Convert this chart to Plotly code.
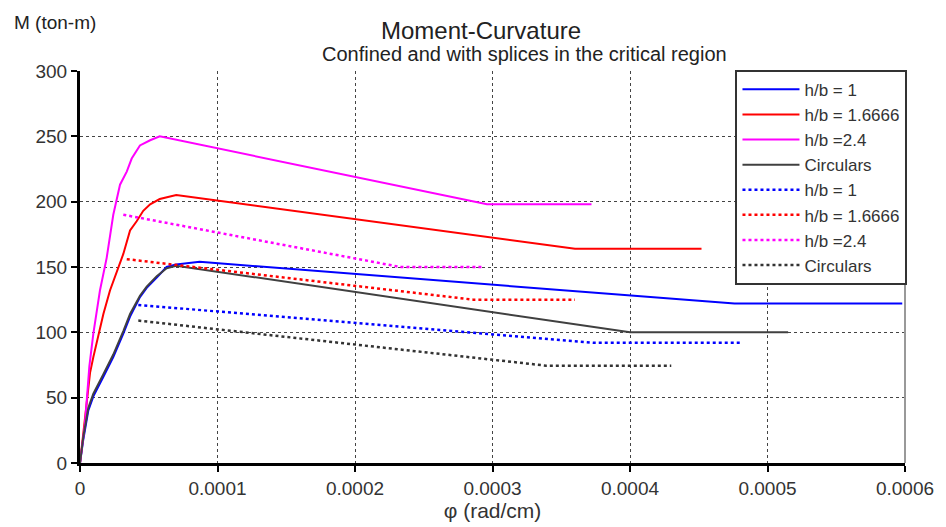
import plotly.graph_objects as go

# ---- data (curvature phi in rad/cm, moment M in ton-m) ----
hb1_x = [0, 2.4e-6, 6.0e-6, 9.7e-6, 1.7e-5, 2.42e-5, 3.15e-5, 3.64e-5, 4.36e-5, 4.85e-5, 5.58e-5, 6.3e-5, 7.0e-5, 8.7e-5, 0.000476, 0.000598]
hb1_y = [0, 18, 40, 51, 66, 81, 99, 112, 127, 134, 142, 150, 152, 154, 122, 122]

hb16_x = [0, 3.6e-6, 7.3e-6, 9.7e-6, 1.7e-5, 2.18e-5, 2.91e-5, 3.15e-5, 3.64e-5, 4.12e-5, 4.6e-5, 5.1e-5, 5.8e-5, 7.0e-5, 0.00036, 0.000452]
hb16_y = [0, 36, 69, 81, 114, 132, 152, 160, 178, 185, 193, 198, 202, 205, 164, 164]

hb24_x = [0, 3.6e-6, 6.8e-6, 9.7e-6, 1.45e-5, 1.94e-5, 2.42e-5, 2.91e-5, 3.4e-5, 3.76e-5, 4.36e-5, 5.1e-5, 5.8e-5, 0.000296, 0.000372]
hb24_y = [0, 30, 74, 99, 132, 157, 190, 213, 223, 233, 243, 247, 250, 198, 198]

circ_x = [0, 2.4e-6, 6.0e-6, 9.7e-6, 1.7e-5, 2.42e-5, 3.15e-5, 3.64e-5, 4.36e-5, 4.85e-5, 5.58e-5, 6.3e-5, 7.0e-5, 0.0004, 0.000515]
circ_y = [0, 20, 42, 53, 68, 83, 101, 114, 128, 135, 143, 149, 151, 100, 100]

hb1_d_x = [4.24e-5, 0.000373, 0.00048]
hb1_d_y = [121, 92, 92]

hb16_d_x = [3.4e-5, 0.000286, 0.00036]
hb16_d_y = [156, 125, 125]

hb24_d_x = [3.15e-5, 0.000233, 0.000294]
hb24_d_y = [190, 150, 150]

circ_d_x = [4.24e-5, 0.000339, 0.00043]
circ_d_y = [109, 74.5, 74.5]

x_ticks = [0, 0.0001, 0.0002, 0.0003, 0.0004, 0.0005, 0.0006]
x_tick_labels = ["0", "0.0001", "0.0002", "0.0003", "0.0004", "0.0005", "0.0006"]
y_ticks = [0, 50, 100, 150, 200, 250, 300]

FONT = "Liberation Sans, Arial, sans-serif"

series = [
    ("h/b = 1", hb1_x, hb1_y, "#0000FF", "solid", 2),
    ("h/b = 1.6666", hb16_x, hb16_y, "#FF0000", "solid", 2),
    ("h/b =2.4", hb24_x, hb24_y, "#FF00FF", "solid", 2),
    ("Circulars", circ_x, circ_y, "#404040", "solid", 2),
    ("h/b = 1", hb1_d_x, hb1_d_y, "#0000FF", "dot", 2.5),
    ("h/b = 1.6666", hb16_d_x, hb16_d_y, "#FF0000", "dot", 2.5),
    ("h/b =2.4", hb24_d_x, hb24_d_y, "#FF00FF", "dot", 2.5),
    ("Circulars", circ_d_x, circ_d_y, "#333333", "dot", 2.5),
]

fig = go.Figure()
for name, xs, ys, col, dash, w in series:
    fig.add_trace(go.Scatter(x=xs, y=ys, mode="lines", name=name,
                             line=dict(color=col, dash=dash, width=w)))

fig.update_layout(
    width=938, height=519,
    margin=dict(l=72, r=39, t=63, b=60),
    paper_bgcolor="white", plot_bgcolor="white",
    font=dict(family=FONT, size=18, color="#333333"),
    showlegend=True,
    legend=dict(x=1.003, xanchor="right", y=1.003, yanchor="top",
                bgcolor="white", bordercolor="#333333", borderwidth=2,
                font=dict(size=17, color="#333333"), itemwidth=57,
                tracegroupgap=0),
    xaxis=dict(range=[0, 0.0006], tickvals=x_ticks, ticktext=x_tick_labels,
               showgrid=True, gridcolor="#444444", griddash="dot", gridwidth=1,
               showline=True, linecolor="black", linewidth=3,
               ticks="outside", ticklen=6, tickcolor="black", tickwidth=2,
               zeroline=False, tickfont=dict(size=19),
               title=dict(text="φ (rad/cm)", standoff=2, font=dict(size=21))),
    yaxis=dict(range=[0, 300], tickvals=y_ticks,
               showgrid=True, gridcolor="#444444", griddash="dot", gridwidth=1,
               showline=True, linecolor="black", linewidth=3,
               ticks="outside", ticklen=6, tickcolor="black", tickwidth=2,
               zeroline=False, tickfont=dict(size=19)),
    shapes=[dict(type="line", xref="paper", yref="paper", x0=1, x1=1, y0=0, y1=1,
                 line=dict(color="#999999", width=2))],
    annotations=[
        dict(text="Moment-Curvature", xref="paper", yref="paper", x=0.486, y=1.1035,
             xanchor="center", yanchor="middle", showarrow=False,
             font=dict(size=24, color="#222222")),
        dict(text="Confined and with splices in the critical region", xref="paper", yref="paper",
             x=0.539, y=1.043, xanchor="center", yanchor="middle", showarrow=False,
             font=dict(size=20, color="#222222")),
        dict(text="M (ton-m)", xref="paper", yref="paper", x=-0.0822, y=1.124,
             xanchor="left", yanchor="middle", showarrow=False,
             font=dict(size=19, color="#222222")),
    ],
)

fig.write_html("out.html")
